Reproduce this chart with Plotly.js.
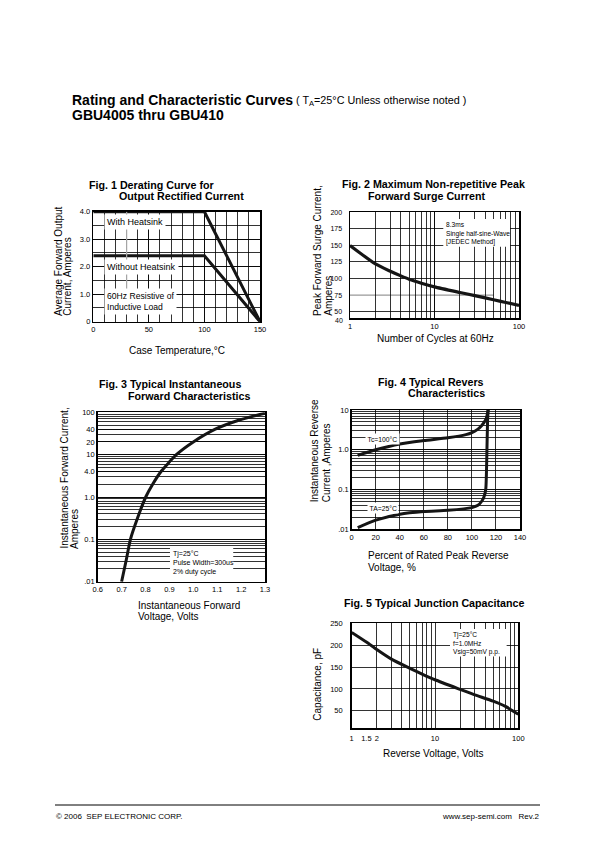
<!DOCTYPE html>
<html><head><meta charset="utf-8">
<script src="https://cdn.plot.ly/plotly-3.0.1.min.js"></script>
<style>html,body{margin:0;padding:0;background:#fff}</style>
</head><body><div id="chart" style="width:596px;height:842px"></div>
<script>
// ---------- Data ----------
// Fig. 1 Derating curve
const fig1Temp = [0, 100, 150];
const fig1WithHeatsink = [4.0, 4.0, 0];
const fig1WithoutHeatsink = [2.4, 2.4, 0];
const fig1XTicks = [0, 50, 100, 150];
const fig1YTicks = [0, 1, 2, 3, 4];
const fig1YTickText = ['0', '1.0', '2.0', '3.0', '4.0'];
// Fig. 2 Surge current
const fig2Cycles = [1, 2, 3, 4, 5, 7, 10, 20, 30, 50, 70, 100];
const fig2Surge = [150, 122, 111, 104, 99, 93, 87.5, 79, 74.2, 68, 63.8, 59.5];
const fig2XTicks = [1, 10, 100];
const fig2YTicks = [50, 75, 100, 125, 150, 175, 200];
const fig2YBottomLabel = '40';
const fig2GridY = [50, 100, 125, 150, 175];
// Fig. 3 Forward characteristics
const fig3Voltage = [0.700, 0.719, 0.737, 0.766, 0.801, 0.830, 0.865, 0.900, 0.929, 1.000, 1.092, 1.190, 1.300];
const fig3Current = [0.01, 0.0316, 0.1, 0.31, 1.0, 2.0, 4.0, 6.7, 10, 20, 40, 65, 95];
const fig3XTicks = [0.6, 0.7, 0.8, 0.9, 1.0, 1.1, 1.2, 1.3];
const fig3XTickText = ['0.6', '0.7', '0.8', '0.9', '1.0', '1.1', '1.2', '1.3'];
const fig3YTicks = [0.01, 0.1, 1, 4, 10, 20, 40, 100];
const fig3YTickText = ['.01', '0.1', '1.0', '4.0', '10', '20', '40', '100'];
// Fig. 4 Reverse characteristics
const fig4PctTc100 = [5, 20, 40, 60, 80, 95, 100, 105, 108, 110, 112, 113.5];
const fig4CurTc100 = [0.72, 1.0, 1.4, 1.7, 2.0, 2.4, 2.7, 3.3, 4.0, 4.8, 6.2, 10];
const fig4PctTa25 = [5, 20, 40, 60, 80, 100, 105, 108, 110, 111.5, 112.5, 113, 113.5];
const fig4CurTa25 = [0.011, 0.017, 0.024, 0.028, 0.030, 0.035, 0.040, 0.050, 0.065, 0.1, 1.0, 5, 10];
const fig4XTicks = [0, 20, 40, 60, 80, 100, 120, 140];
const fig4YTicks = [0.01, 0.1, 1, 10];
const fig4YTickText = ['.01', '0.1', '1.0', '10'];
// Fig. 5 Junction capacitance
const fig5Voltage = [1, 1.5, 2, 3, 5, 7, 10, 20, 30, 50, 70, 100];
const fig5Cap = [229, 207, 190, 168, 147, 134, 121, 99, 86.5, 72, 60, 42];
const fig5XTicks = [1, 1.5, 2, 10, 100];
const fig5XTickText = ['1', '1.5', '2', '10', '100'];
const fig5YTicks = [50, 100, 150, 200, 250];

// ---------- Helpers ----------
const FONT = 'Liberation Sans, Arial, Helvetica, sans-serif';
const W = 596, H = 842;
const px = v => v / W;
const py = v => 1 - v / H;
const BLACK = '#000';
const CURVE = '#151515';

function axis(o) {
  return Object.assign({
    showline: true, linecolor: BLACK, linewidth: 1.5, mirror: true,
    ticks: '', zeroline: false, showgrid: true, gridcolor: BLACK, gridwidth: 0.8,
    tickfont: {family: FONT, size: 7.5, color: BLACK}, fixedrange: true
  }, o);
}
function minorGrid(o) {
  return Object.assign({showgrid: true, gridcolor: BLACK, gridwidth: 0.8, ticks: ''}, o);
}
function txt(text, x, y, o) {
  o = o || {};
  const a = {
    text: text, x: px(x), y: py(y), xref: 'paper', yref: 'paper', showarrow: false,
    xanchor: o.xanchor || 'left', yanchor: o.yanchor || 'middle', align: o.align || 'left',
    font: {family: FONT, size: o.size || 10, color: BLACK}, borderpad: 0
  };
  if (o.textangle !== undefined) a.textangle = o.textangle;
  return a;
}
function vtxt(text, x, yBottom, size) {
  return txt(text, x, yBottom, {textangle: -90, xanchor: 'center', yanchor: 'bottom', size: size || 10});
}
function boxLabel(text, xref, yref, x, y, size) {
  return {text: text, x: x, y: y, xref: xref, yref: yref, showarrow: false,
    xanchor: 'left', yanchor: 'middle', align: 'left', bgcolor: '#fff', borderpad: 2,
    font: {family: FONT, size: size, color: BLACK}};
}
function whiteRect(xref, yref, x0, x1, y0, y1) {
  return {type: 'rect', xref: xref, yref: yref, x0: x0, x1: x1, y0: y0, y1: y1,
    fillcolor: '#fff', line: {width: 0}, layer: 'above'};
}
function curve(x, y, xa, ya, shape, w, sm) {
  return {x: x, y: y, xaxis: xa, yaxis: ya, type: 'scatter', mode: 'lines',
    line: {color: CURVE, width: w || 3, shape: shape || 'linear', smoothing: sm || 0.6},
    hoverinfo: 'skip'};
}

// ---------- Traces ----------
const traces = [
  curve(fig1Temp, fig1WithHeatsink, 'x', 'y'),
  curve(fig1Temp, fig1WithoutHeatsink, 'x', 'y'),
  curve(fig2Cycles, fig2Surge, 'x2', 'y2', 'spline', 3.2, 0.6),
  curve(fig3Voltage, fig3Current, 'x3', 'y3', 'spline', 3, 0.7),
  curve(fig4PctTc100, fig4CurTc100, 'x4', 'y4', 'spline', 3, 0.6),
  curve(fig4PctTa25, fig4CurTa25, 'x4', 'y4', 'spline', 3, 0.6),
  curve(fig5Voltage, fig5Cap, 'x5', 'y5', 'spline', 3, 0.6)
];

// ---------- Layout ----------
const TS = 10.7; // figure title size
const layout = {
  width: W, height: H, autosize: false,
  margin: {l: 0, r: 0, t: 0, b: 0, pad: 0},
  paper_bgcolor: '#fff', plot_bgcolor: '#fff', showlegend: false,
  font: {family: FONT, color: BLACK},
  // Fig 1
  xaxis: axis({domain: [px(93.3), px(260)], anchor: 'y', range: [0, 150],
    tickmode: 'array', tickvals: fig1XTicks, minor: minorGrid({dtick: 10, tick0: 0})}),
  yaxis: axis({domain: [py(321.7), py(211.7)], anchor: 'x', range: [0, 4],
    tickmode: 'array', tickvals: fig1YTicks, ticktext: fig1YTickText,
    minor: minorGrid({dtick: 0.5, tick0: 0})}),
  // Fig 2
  xaxis2: axis({domain: [px(350), px(519)], anchor: 'y2', type: 'log', range: [0, 2],
    tickmode: 'array', tickvals: fig2XTicks, minor: minorGrid({dtick: 'D1'})}),
  yaxis2: axis({domain: [py(318.3), py(212.3)], anchor: 'x2', range: [40, 200],
    tickmode: 'array', tickvals: fig2YTicks, showgrid: false, ticklabelstandoff: 5,
    tickfont: {family: FONT, size: 7, color: BLACK},
    minor: minorGrid({tickmode: 'array', tickvals: fig2GridY})}),
  // Fig 3
  xaxis3: axis({domain: [px(97.7), px(265)], anchor: 'y3', range: [0.6, 1.3],
    tickmode: 'array', tickvals: fig3XTicks, ticktext: fig3XTickText, showgrid: false}),
  yaxis3: axis({domain: [py(581.7), py(412.3)], anchor: 'x3', type: 'log', range: [-2, 2],
    tickmode: 'array', tickvals: fig3YTicks, ticktext: fig3YTickText,
    minor: minorGrid({dtick: 'D1'})}),
  // Fig 4
  xaxis4: axis({domain: [px(351.7), px(520)], anchor: 'y4', range: [0, 140],
    tickmode: 'array', tickvals: fig4XTicks}),
  yaxis4: axis({domain: [py(529.3), py(410)], anchor: 'x4', type: 'log', range: [-2, 1],
    tickmode: 'array', tickvals: fig4YTicks, ticktext: fig4YTickText,
    minor: minorGrid({dtick: 'D1'})}),
  // Fig 5
  xaxis5: axis({domain: [px(351.7), px(518.3)], anchor: 'y5', type: 'log', range: [0, 2],
    tickmode: 'array', tickvals: fig5XTicks, ticktext: fig5XTickText, showgrid: false,
    ticklabelstandoff: 2, minor: minorGrid({dtick: 'D1'})}),
  yaxis5: axis({domain: [py(728.3), py(623.3)], anchor: 'x5', range: [10, 250],
    tickmode: 'array', tickvals: fig5YTicks, ticktext: fig5YTicks.map(String), ticklabelstandoff: 6}),
  shapes: [
    // Fig 1 faint grey guide line seen in the original scan
    {type: 'line', xref: 'x domain', yref: 'y', x0: 0.2, x1: 0.2, y0: 1.0, y1: 4.0,
      line: {color: '#aaa', width: 1.2}, layer: 'above'},
    // Fig 2 grey 75 A line and note box
    {type: 'line', xref: 'x2 domain', yref: 'y2', x0: 0, x1: 0.85, y0: 75, y1: 75,
      line: {color: '#999', width: 1.2}, layer: 'below'},
    whiteRect('x2 domain', 'y2 domain', 0.552, 0.947, 0.675, 0.937),
    // Fig 3 note box
    whiteRect('x3 domain', 'y3 domain', 0.432, 0.81, 0.006, 0.199),
    // Fig 5 note box
    whiteRect('x5 domain', 'y5 domain', 0.59, 0.93, 0.685, 0.946),
    // footer rule
    {type: 'line', xref: 'paper', yref: 'paper', x0: px(55), x1: px(540), y0: py(805), y1: py(805),
      line: {color: BLACK, width: 1}}
  ],
  annotations: [
    // header
    txt('<b>Rating and Characteristic Curves</b>', 71, 99.5, {size: 14}),
    txt('( T<sub>A</sub>=25°C Unless otherwise noted )', 295, 101, {size: 10.8}),
    txt('<b>GBU4005 thru GBU410</b>', 71, 115, {size: 14}),
    // Fig 1 texts
    txt('<b>Fig. 1 Derating Curve for</b>', 88, 184.5, {size: TS}),
    txt('<b>Output Rectified Current</b>', 118, 196.5, {size: TS}),
    vtxt('Average Forward Output', 58.3, 316.7),
    vtxt('Current, Amperes', 68, 316.7),
    txt('Case Temperature,°C', 176.7, 350, {xanchor: 'center'}),
    boxLabel('With Heatsink', 'x', 'y', 10, 3.64, 9),
    boxLabel('Without Heatsink', 'x', 'y', 10, 2.0, 9),
    boxLabel('60Hz Resistive of<br>Inductive Load', 'x', 'y', 10, 0.74, 8.6),
    // Fig 2 texts
    txt('<b>Fig. 2 Maximum Non-repetitive Peak</b>', 341, 184, {size: TS}),
    txt('<b>Forward Surge Current</b>', 366.5, 196, {size: TS}),
    vtxt('Peak Forward Surge Current,', 316.7, 316.7),
    vtxt('Amperes', 329, 316.7),
    txt('Number of Cycles at 60Hz', 435.8, 338.5, {xanchor: 'center'}),
    txt(fig2YBottomLabel, 344, 320.5, {size: 7, xanchor: 'right'}),
    txt('8.3ms<br>Single half-sine-Wave<br>[JEDEC Method]', 445, 220, {size: 6.6, yanchor: 'top'}),
    // Fig 3 texts
    txt('<b>Fig. 3 Typical Instantaneous</b>', 98, 384, {size: TS}),
    txt('<b>Forward Characteristics</b>', 126.5, 396, {size: TS}),
    vtxt('Instantaneous Forward Current,', 64, 550),
    vtxt('Amperes', 74, 550),
    txt('Instantaneous Forward', 136.5, 605),
    txt('Voltage, Volts', 136.5, 616),
    txt('Tj=25°C<br>Pulse Width=300us<br>2% duty cycle', 172, 548.5, {size: 7, yanchor: 'top'}),
    // Fig 4 texts
    txt('<b>Fig. 4 Typical Revers</b>', 376.5, 381.5, {size: TS}),
    txt('<b>Characteristics</b>', 406.5, 393.5, {size: TS}),
    vtxt('Instantaneous Reverse', 314.5, 503.3),
    vtxt('Current ,Amperes', 326.5, 503.3),
    txt('Percent of Rated Peak Reverse', 366.5, 555),
    txt('Voltage, %', 366.5, 567.5),
    {text: 'Tc=100°C', x: 25.7, y: Math.log10(1.85), xref: 'x4', yref: 'y4', showarrow: false,
      xanchor: 'center', yanchor: 'middle', bgcolor: '#fff', borderpad: 1.5,
      font: {family: FONT, size: 6.8, color: BLACK}},
    {text: 'TA=25°C', x: 25.7, y: Math.log10(0.0335), xref: 'x4', yref: 'y4', showarrow: false,
      xanchor: 'center', yanchor: 'middle', bgcolor: '#fff', borderpad: 1.5,
      font: {family: FONT, size: 6.8, color: BLACK}},
    // Fig 5 texts
    txt('<b>Fig. 5 Typical Junction Capacitance</b>', 343, 603.3, {size: TS}),
    vtxt('Capacitance, pF', 317.5, 721.7),
    txt('Reverse Voltage, Volts', 433.3, 753, {xanchor: 'center'}),
    txt('Tj=25°C<br>f=1.0MHz<br>Vsig=50mV p.p.', 452, 629.5, {size: 6.6, yanchor: 'top'}),
    // footer
    txt('© 2006  SEP ELECTRONIC CORP.', 55, 816, {size: 8}),
    txt('www.sep-semi.com   Rev.2', 540, 816, {size: 8, xanchor: 'right'})
  ]
};

Plotly.newPlot('chart', traces, layout, {staticPlot: true, displayModeBar: false});
</script>
</body></html>
